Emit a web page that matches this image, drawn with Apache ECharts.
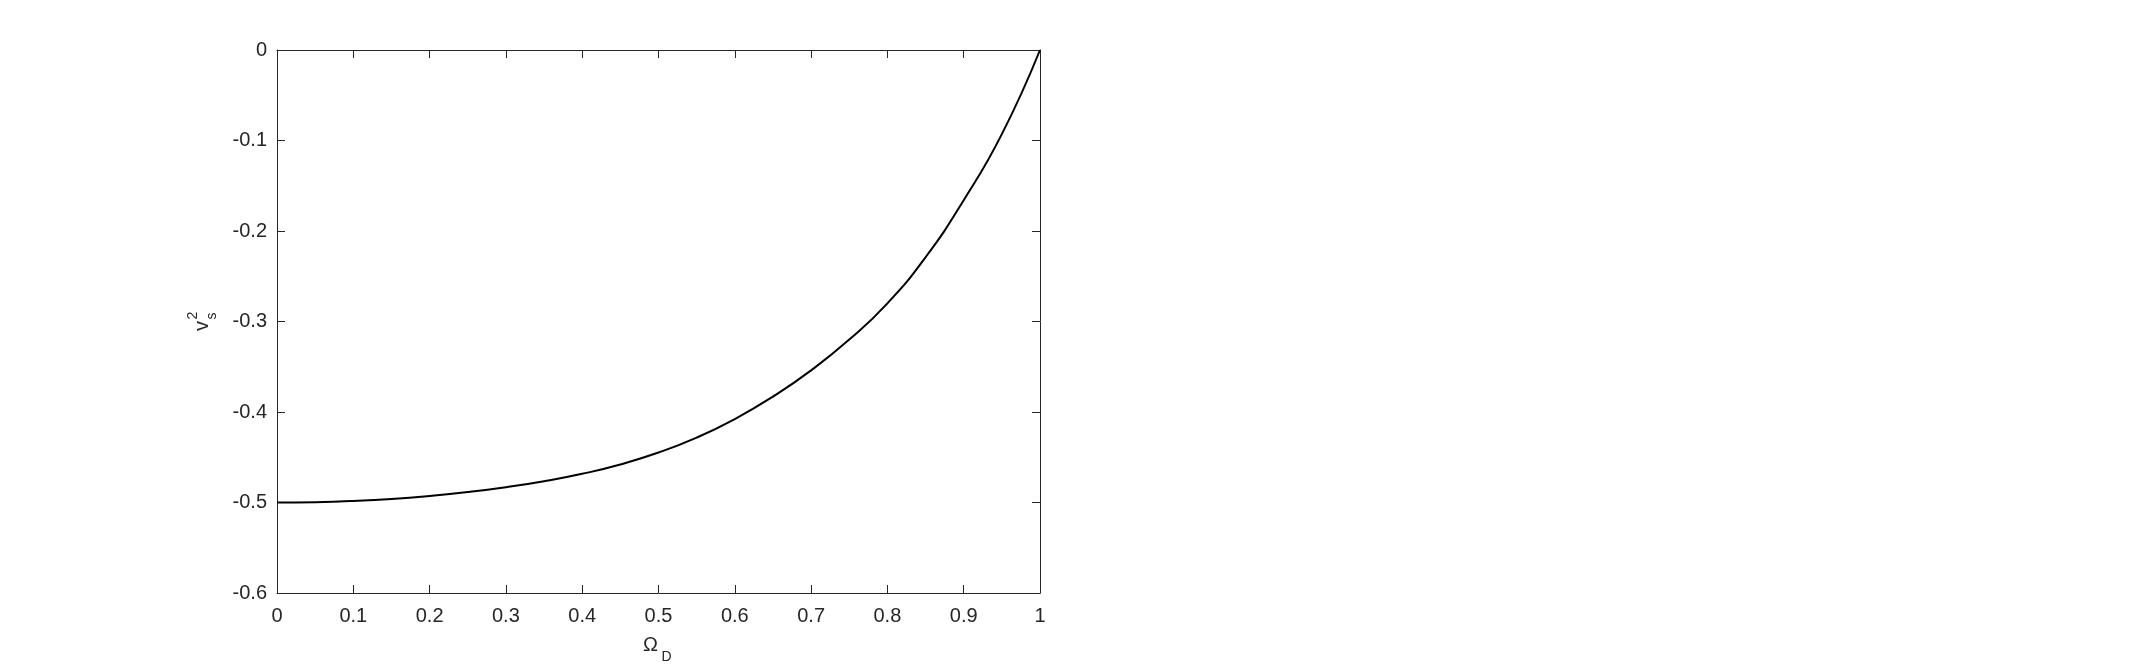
<!DOCTYPE html>
<html>
<head>
<meta charset="utf-8">
<script src="https://cdn.jsdelivr.net/npm/echarts@6/dist/echarts.min.js"></script>
<style>
html,body{margin:0;padding:0;background:#fff;}
#chart{width:2134px;height:670px;}
</style>
</head>
<body>
<div id="chart"></div>
<script>
// Data
const omegaD = [0, 0.05, 0.1, 0.15, 0.2, 0.25, 0.3, 0.35, 0.4, 0.45, 0.5, 0.55, 0.6, 0.65, 0.7, 0.75, 0.8, 0.85, 0.9, 0.95, 1.0];
const vs2 = [-0.5000, -0.4996, -0.4983, -0.4961, -0.4928, -0.4885, -0.4831, -0.4765, -0.4683, -0.4580, -0.4448, -0.4283, -0.4078, -0.3830, -0.3540, -0.3200, -0.2800, -0.2290, -0.1660, -0.0930, 0.0];
const xTicks = [0, 0.1, 0.2, 0.3, 0.4, 0.5, 0.6, 0.7, 0.8, 0.9, 1];
const yTicks = [-0.6, -0.5, -0.4, -0.3, -0.2, -0.1, 0];

const FONT = '"Liberation Sans", Arial, Helvetica, sans-serif';
const AX = '#262626';

const chart = echarts.init(document.getElementById('chart'), null, {renderer: 'canvas'});

function axisCommon(showLabel, margin) {
  return {
    axisLine: {show: true, onZero: false, lineStyle: {color: AX, width: 1}},
    axisTick: {show: true, inside: true, length: 8, lineStyle: {color: AX, width: 1}},
    splitLine: {show: false},
    axisLabel: {show: showLabel, color: AX, fontSize: 20, fontFamily: FONT, margin: margin}
  };
}

const option = {
  animation: false,
  backgroundColor: '#ffffff',
  grid: {left: 277, top: 50, right: 1094, bottom: 77, containLabel: false},
  xAxis: [
    Object.assign({type: 'value', position: 'bottom', min: xTicks[0], max: xTicks[xTicks.length - 1], interval: 0.1}, axisCommon(true, 13)),
    Object.assign({type: 'value', position: 'top', min: xTicks[0], max: xTicks[xTicks.length - 1], interval: 0.1}, axisCommon(false, 10))
  ],
  yAxis: [
    Object.assign({type: 'value', position: 'left', min: yTicks[0], max: yTicks[yTicks.length - 1], interval: 0.1}, axisCommon(true, 10)),
    Object.assign({type: 'value', position: 'right', min: yTicks[0], max: yTicks[yTicks.length - 1], interval: 0.1}, axisCommon(false, 10))
  ],
  series: [{
    type: 'line',
    data: omegaD.map((x, i) => [x, vs2[i]]),
    smooth: 0.5,
    showSymbol: false,
    lineStyle: {color: '#000000', width: 2},
    xAxisIndex: 0,
    yAxisIndex: 0
  }],
  graphic: [
    // y-axis label v_s^2 (rotated)
    {type: 'text', x: 202.5, y: 326, rotation: Math.PI / 2,
     style: {text: 'v', fontSize: 20, fontFamily: FONT, fill: AX, textAlign: 'center', textVerticalAlign: 'middle'}},
    {type: 'text', x: 193, y: 315.5, rotation: Math.PI / 2,
     style: {text: '2', fontSize: 14, fontFamily: FONT, fill: AX, textAlign: 'center', textVerticalAlign: 'middle'}},
    {type: 'text', x: 212.5, y: 316, rotation: Math.PI / 2,
     style: {text: 's', fontSize: 14, fontFamily: FONT, fill: AX, textAlign: 'center', textVerticalAlign: 'middle'}},
    // x-axis label Ω_D
    {type: 'text', x: 650.5, y: 645,
     style: {text: 'Ω', fontSize: 20, fontFamily: FONT, fill: AX, textAlign: 'center', textVerticalAlign: 'middle'}},
    {type: 'text', x: 666.5, y: 657,
     style: {text: 'D', fontSize: 14, fontFamily: FONT, fill: AX, textAlign: 'center', textVerticalAlign: 'middle'}}
  ]
};
chart.setOption(option);
</script>
</body>
</html>
